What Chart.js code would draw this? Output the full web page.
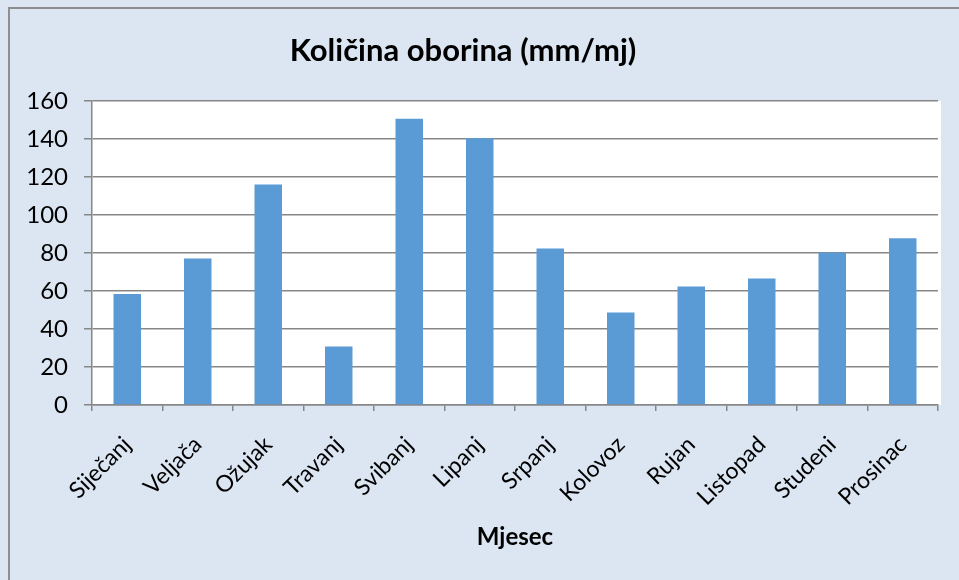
<!DOCTYPE html>
<html>
<head>
<meta charset="utf-8">
<script src="https://cdn.jsdelivr.net/npm/chart.js@4"></script>
<style>
  html, body { margin: 0; padding: 0; background: #dce6f2; }
  #wrap { width: 959px; height: 580px; }
</style>
</head>
<body>
<div id="wrap"><canvas id="graficoOborina"></canvas></div>
<script>
const mjeseci = ["Siječanj", "Veljača", "Ožujak", "Travanj", "Svibanj", "Lipanj",
  "Srpanj", "Kolovoz", "Rujan", "Listopad", "Studeni", "Prosinac"];
const oborine = [58.4, 77.1, 116.0, 30.8, 150.7, 140.4, 82.4, 48.7, 62.4, 66.6, 80.3, 87.8];
const naslov = "Količina oborina (mm/mj)";
const naslovX = "Mjesec";

const siva = "#878787";

// pozadina, okvir i bijela ploha grafa
const pozadina = {
  id: "pozadina",
  beforeDraw: (chart) => {
    const { ctx, chartArea } = chart;
    ctx.save();
    ctx.fillStyle = "#dce6f2";
    ctx.fillRect(0, 0, chart.width, chart.height);
    ctx.strokeStyle = "#8f8f8f";
    ctx.lineWidth = 2;
    ctx.strokeRect(9, 8, chart.width + 10, chart.height + 10);
    ctx.fillStyle = "#ffffff";
    ctx.fillRect(chartArea.left, chartArea.top, chartArea.right - chartArea.left + 3, chartArea.bottom - chartArea.top);
    ctx.restore();
  },
  afterDraw: (chart) => {
    const ctx = chart.ctx;
    ctx.save();
    ctx.font = "bold 31px Lato";
    ctx.fillStyle = "#000";
    ctx.textAlign = "center";
    ctx.textBaseline = "middle";
    ctx.fillText(naslov, 463, 51);
    ctx.restore();
  },
};

const ctx = document.getElementById("graficoOborina").getContext("2d");
new Chart(ctx, {
  type: "bar",
  data: {
    labels: mjeseci,
    datasets: [{
      data: oborine,
      backgroundColor: "#5b9bd5",
      barPercentage: 0.39,
      categoryPercentage: 1,
    }],
  },
  options: {
    responsive: true,
    maintainAspectRatio: false,
    animation: false,
    layout: { padding: { top: 101, right: 21, left: 0, bottom: 0 } },
    plugins: { legend: { display: false }, tooltip: { enabled: false } },
    scales: {
      x: {
        afterFit: (scale) => { scale.height = 175; },
        grid: { offset: true, drawOnChartArea: false, color: siva, lineWidth: 1.5, tickLength: 6 },
        border: { color: siva, width: 1.5 },
        ticks: {
          maxRotation: 45, minRotation: 45, autoSkip: false, padding: 20,
          color: "#000", font: { family: "Lato", size: 23 },
        },
        title: {
          display: true, text: naslovX, color: "#000",
          font: { family: "Lato", size: 24, weight: "bold" },
          padding: { top: 0, bottom: 28 },
        },
      },
      y: {
        min: 0, max: 160,
        afterFit: (scale) => { scale.width = 92; },
        grid: { color: siva, lineWidth: 1.5, tickLength: 8 },
        border: { color: siva, width: 1.5 },
        ticks: { stepSize: 20, padding: 16, color: "#000", font: { family: "Lato", size: 24 } },
      },
    },
  },
  plugins: [pozadina],
});
</script>
</body>
</html>
